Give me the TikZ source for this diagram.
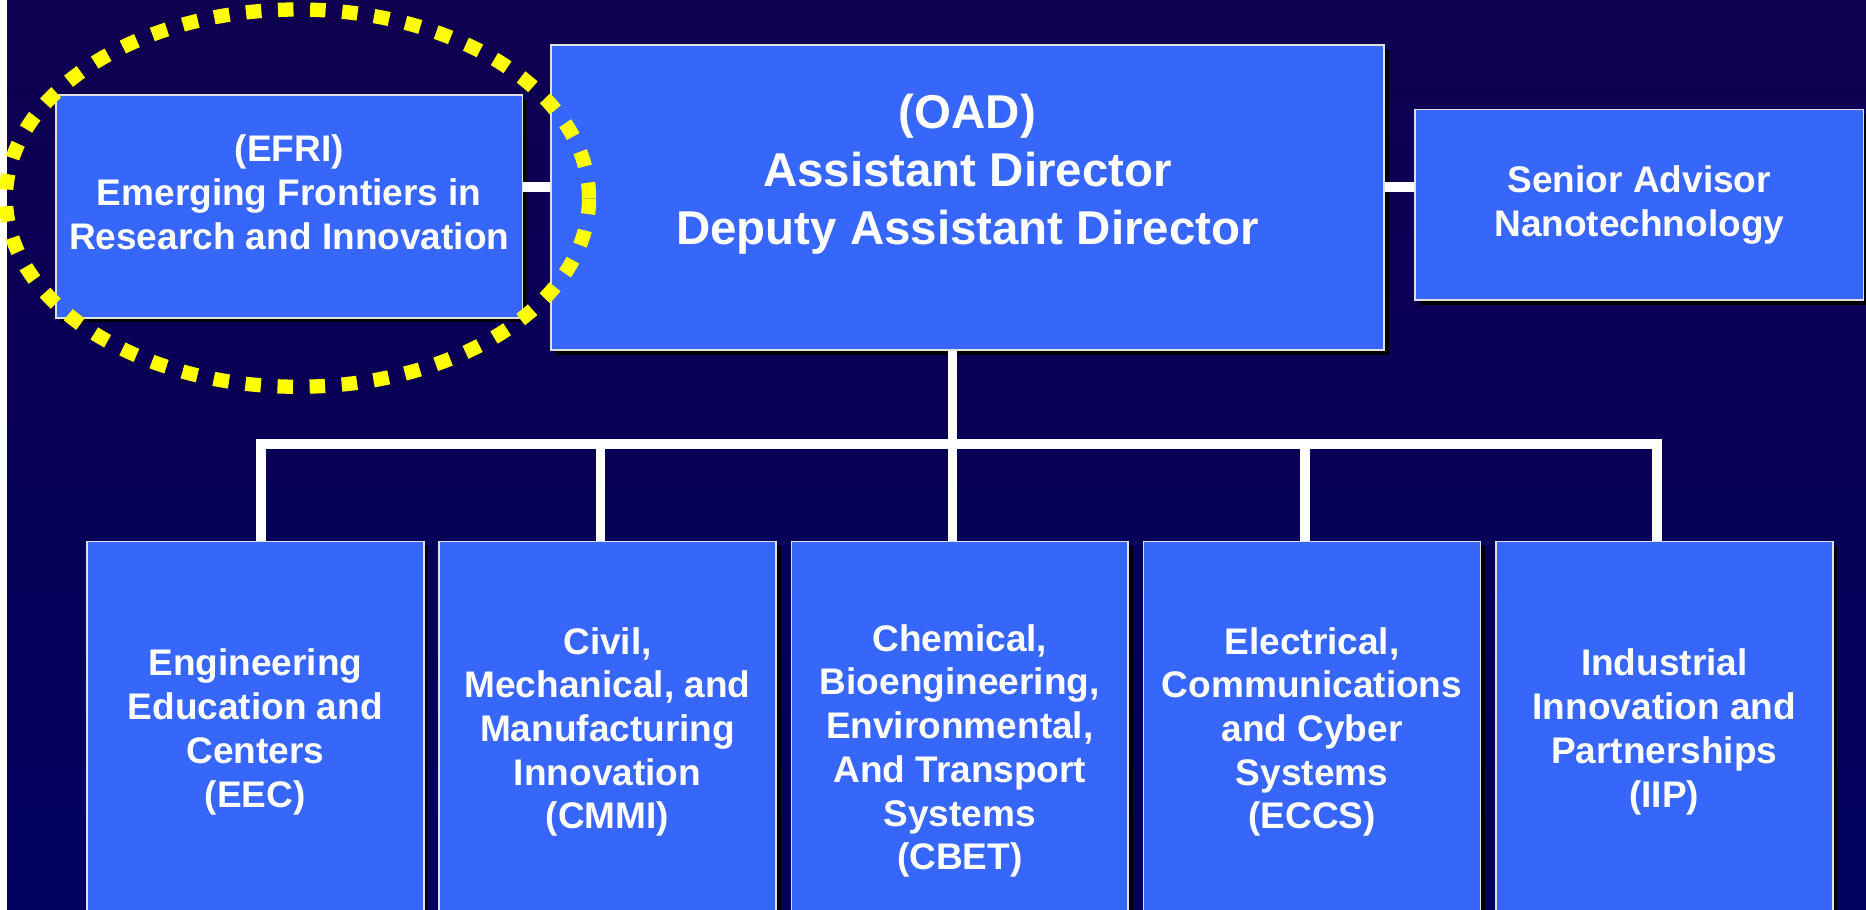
\documentclass[tikz,border=0pt]{standalone}
\usepackage{fontspec}
\setmainfont{Liberation Sans}
\usetikzlibrary{shadows}

\definecolor{slidetop}{RGB}{16,0,80}
\definecolor{slidebot}{RGB}{0,0,94}
\definecolor{boxblue}{RGB}{54,102,250}
\definecolor{marker}{RGB}{255,255,0}

\tikzset{
  unit/.style={draw=white!88!black, line width=0.8pt, fill=boxblue,
    drop shadow={fill=black, opacity=1, shadow xshift=0.08cm, shadow yshift=-0.08cm}},
  lbl/.style={text=white, align=center, font=\fontsize{17.7}{20.9}\selectfont\bfseries},
  biglbl/.style={lbl, font=\fontsize{22.7}{27.6}\selectfont\bfseries},
  division/.style={unit, lbl, minimum width=5.66cm, minimum height=6.4cm},
  link/.style={draw=white, line width=0.16cm},
  highlight/.style={draw=marker, line width=0.24cm, dash pattern=on 0.26cm off 0.28cm}
}

\begin{document}
\begin{tikzpicture}

\useasboundingbox (0,0) rectangle (31.36,15.28);
\clip (0,0) rectangle (31.36,15.28);

% slide background
\fill[white] (0,0) rectangle (0.12,15.28);
\shade[top color=slidetop, bottom color=slidebot] (0.12,0) rectangle (31.36,15.28);

% top row
\node[unit, minimum width=7.84cm, minimum height=3.74cm] (efri) at (4.86,11.81) {};
\node[unit, minimum width=14cm, minimum height=5.12cm] (oad) at (16.26,11.96) {};
\node[unit, lbl, minimum width=7.54cm, minimum height=3.2cm] (nano) at (27.55,11.84) {Senior Advisor\\Nanotechnology};

\node[lbl] (efri-txt) at ([yshift=0.24cm]efri.center) {(EFRI)\\Emerging Frontiers in\\Research and Innovation};
\node[biglbl] (oad-txt) at ([yshift=0.39cm]oad.center) {(OAD)\\Assistant Director\\Deputy Assistant Director};

% divisions
\node[division] (eec) at (4.29,2.98) {Engineering\\Education and\\Centers\\(EEC)};
\node[division] (cmmi) at (10.21,2.98) {Civil,\\Mechanical, and\\Manufacturing\\Innovation\\(CMMI)};
\node[division, minimum height=7.04cm] (cbet) at (16.13,2.66) {Chemical,\\Bioengineering,\\Environmental,\\And Transport\\Systems\\(CBET)};
\node[division] (eccs) at (22.05,2.98) {Electrical,\\Communications\\and Cyber\\Systems\\(ECCS)};
\node[division] (iip) at (27.97,2.98) {Industrial\\Innovation and\\Partnerships\\(IIP)};

% connectors
\coordinate (bus) at (0,7.82);
\draw[link] ([yshift=0.33cm]efri.east) -- ([yshift=0.33cm]efri.east -| oad.west);
\draw[link] ([yshift=0.3cm]nano.west) -- ([yshift=0.3cm]nano.west -| oad.east);
\draw[link] ([xshift=-0.12cm]oad.south -| cbet.north) -- ([xshift=-0.12cm]cbet.north);
\draw[link] ([xshift=0.1cm]eec.north) -- ([xshift=0.1cm]eec.north |- bus)
  -- ([xshift=-0.12cm]bus -| iip.north) -- ([xshift=-0.12cm]iip.north);
\draw[link] ([xshift=-0.12cm]cmmi.north) -- ([xshift=-0.12cm]cmmi.north |- bus);
\draw[link] ([xshift=-0.12cm]eccs.north) -- ([xshift=-0.12cm]eccs.north |- bus);

% EFRI marked
\draw[highlight] (5.0,11.95) ellipse (4.9cm and 3.17cm);

\end{tikzpicture}
\end{document}
